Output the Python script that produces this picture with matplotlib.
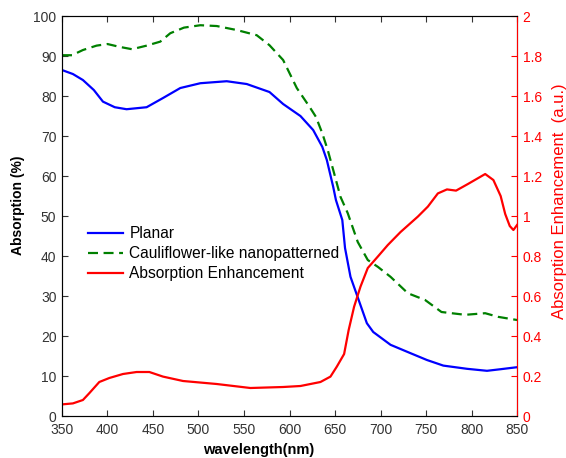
import numpy as np
import matplotlib.pyplot as plt

plt.rcParams['font.family'] = ['Liberation Sans', 'DejaVu Sans']

# planar absorption (%)
wl_planar = [350, 362, 373, 385, 395, 408, 421, 443, 461, 480, 502, 531, 553, 578, 593,
             612, 626, 636, 641, 648, 651, 658, 661, 667, 676, 685, 692, 711, 733, 751,
             769, 795, 817, 832, 850]
planar = [86.5, 85.5, 84.0, 81.5, 78.6, 77.2, 76.7, 77.2, 79.5, 82.0, 83.2, 83.7, 83.0, 81.0, 78.0,
          75.0, 71.5, 67.3, 64.0, 57.3, 54.0, 49.0, 42.0, 34.8, 29.0, 23.2, 21.0, 17.8, 15.7, 14.0,
          12.6, 11.8, 11.3, 11.7, 12.2]

# cauliflower-like nanopatterned absorption (%)
wl_cauli = [350, 361, 373, 388, 400, 413, 427, 443, 458, 469, 484, 502, 520, 542, 564,
            578, 593, 608, 622, 629, 636, 642, 649, 656, 664, 675, 686, 697, 711, 730,
            749, 767, 793, 815, 829, 850]
cauli = [90.2, 90.2, 91.5, 92.6, 93.0, 92.3, 91.7, 92.6, 93.6, 95.7, 97.1, 97.7, 97.5, 96.5, 95.2,
         92.7, 89.0, 82.0, 77.3, 74.8, 70.7, 66.5, 60.7, 54.8, 50.7, 43.5, 39.0, 37.3, 34.8, 30.7,
         29.0, 26.0, 25.3, 25.7, 24.8, 24.0]

# absorption enhancement (a.u.)
wl_enh = [350, 362, 373, 380, 391, 402, 417, 432, 446, 461, 483, 520, 557, 593, 612,
          634, 645, 652, 660, 665, 671, 678, 686, 697, 708, 722, 741, 752, 763, 773,
          783, 796, 815, 824, 832, 837, 842, 846, 850]
enh = [0.058, 0.063, 0.08, 0.114, 0.17, 0.19, 0.21, 0.22, 0.22, 0.197, 0.175, 0.16, 0.14, 0.145, 0.15,
       0.17, 0.197, 0.247, 0.31, 0.43, 0.547, 0.647, 0.74, 0.797, 0.855, 0.92, 0.997, 1.047, 1.113, 1.133,
       1.127, 1.16, 1.21, 1.18, 1.10, 1.01, 0.95, 0.93, 0.955]

fig = plt.figure(figsize=(5.66, 4.58), dpi=100)
ax = fig.add_axes([0.1095, 0.0917, 0.804, 0.8733])
ax2 = ax.twinx()

l1, = ax.plot(wl_planar, planar, color='#0000ff', lw=1.6, label='Planar')
l2, = ax.plot(wl_cauli, cauli, color='#008000', lw=1.6, ls=(0, (4.5, 2.5)),
              label='Cauliflower-like nanopatterned')
l3, = ax2.plot(wl_enh, enh, color='#ff0000', lw=1.6, label='Absorption Enhancement')

ax.set_xlim(350, 850)
ax.set_ylim(0, 100)
ax.set_xticks(np.arange(350, 851, 50))
ax.set_yticks(np.arange(0, 101, 10))
ax2.set_ylim(0, 2)
ax2.set_yticks(np.arange(0, 2.01, 0.2))
ax2.set_yticklabels(['0', '0.2', '0.4', '0.6', '0.8', '1', '1.2', '1.4', '1.6', '1.8', '2'])

ax.tick_params(direction='in', top=True, labelsize=10, length=4, pad=4)
ax.tick_params(axis='x', pad=5)
ax2.tick_params(direction='in', colors='#ff0000', labelsize=10, length=4, pad=4)
ax2.spines['right'].set_color('#ff0000')
for s in ['left', 'bottom', 'top']:
    ax.spines[s].set_color('#444444')
ax.tick_params(colors='#333333')

ax.set_xlabel('wavelength(nm)', fontsize=10.5, fontweight='bold')
ax.xaxis.set_label_coords(0.432, -0.0675)
ax.set_ylabel('Absorption (%)', fontsize=10, fontweight='bold')
ax.yaxis.set_label_coords(-0.0815, 0.5275)
ax2.set_ylabel('Absorption Enhancement  (a.u.)', fontsize=12, color='#ff0000')
ax2.yaxis.set_label_coords(1.076, 0.5375)

ax.legend(handles=[l1, l2, l3], loc='upper left', bbox_to_anchor=(0.027, 0.51),
          frameon=False, fontsize=11.2, handlelength=2.25, handletextpad=0.4,
          labelspacing=0.33)

plt.savefig('out.png', dpi=100)
